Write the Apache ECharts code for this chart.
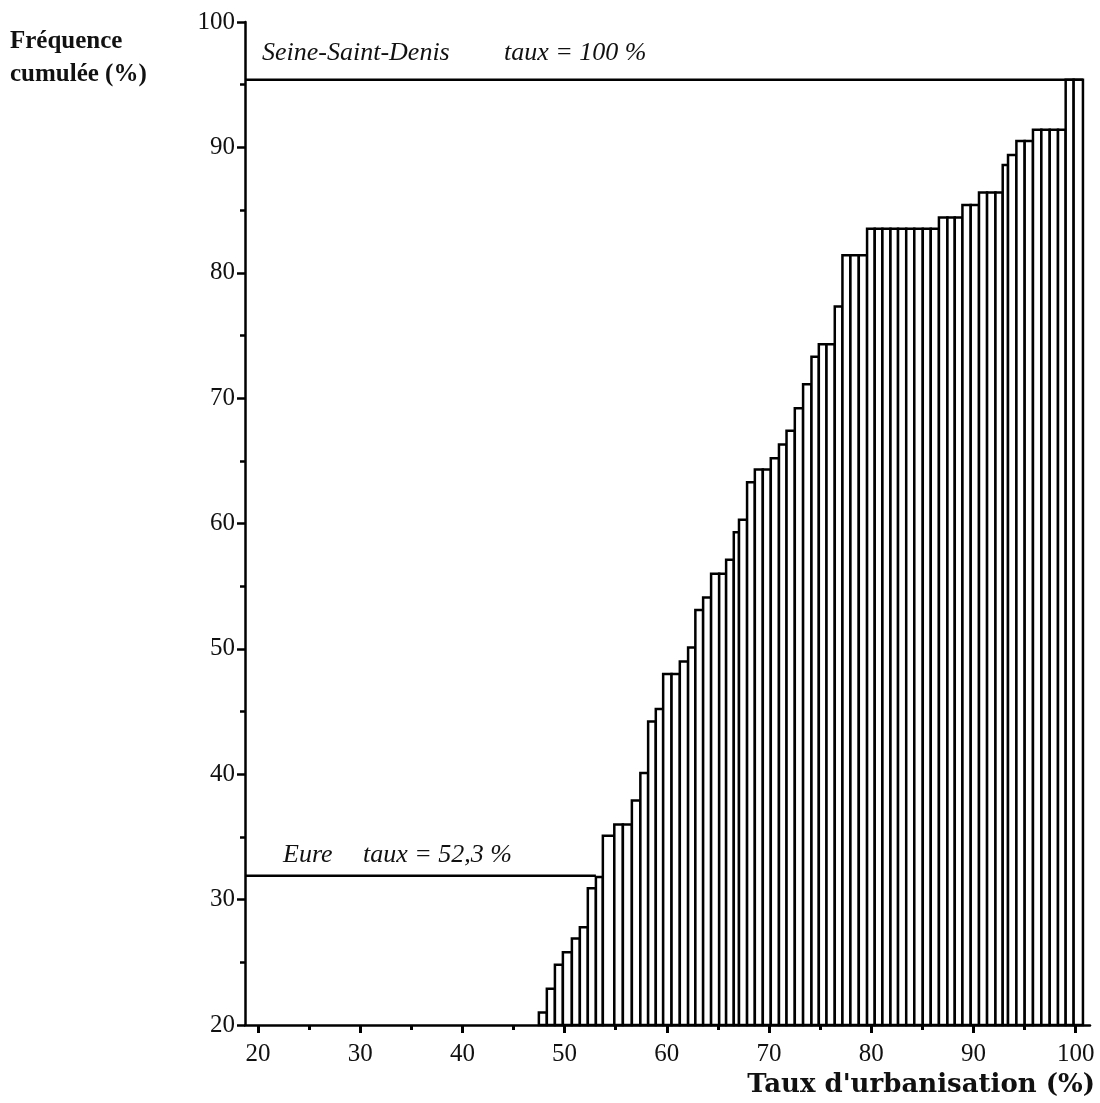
<!DOCTYPE html>
<html>
<head>
<meta charset="utf-8">
<script src="https://cdn.jsdelivr.net/npm/echarts@6/dist/echarts.min.js"></script>
<style>html,body{margin:0;padding:0;background:#fff;}#c{width:1100px;height:1103px;}</style>
</head>
<body>
<div id="c"></div>
<script>
// Left edges of the bars (taux d'urbanisation, %) and the right edge of the last bar
const binEdges = [47.48, 48.26, 49.05, 49.83, 50.71, 51.49, 52.27, 53.06, 53.74, 54.86,
  55.70, 56.58, 57.41, 58.17, 58.92, 59.64, 60.46, 61.27, 62.08, 62.79,
  63.55, 64.33, 65.12, 65.80, 66.55, 67.06, 67.85, 68.61, 69.39, 70.17,
  70.97, 71.71, 72.52, 73.33, 74.15, 74.87, 75.62, 76.43, 77.18, 77.96,
  78.78, 79.59, 80.34, 81.09, 81.88, 82.62, 83.42, 84.21, 85.04, 85.82,
  86.62, 87.45, 88.17, 88.92, 89.73, 90.54, 91.33, 92.15, 92.86, 93.38,
  94.20, 95.01, 95.82, 96.64, 97.46, 98.27, 99.02, 99.80, 100.71];
// Cumulative frequency (%) of each bar
const cumFreq = [21.0, 22.9, 24.8, 25.8, 26.9, 27.8, 30.9, 31.8, 35.1, 36.0,
  36.0, 37.9, 40.1, 44.2, 45.2, 48.0, 48.0, 49.0, 50.1, 53.1,
  54.1, 56.0, 56.0, 57.1, 59.3, 60.3, 63.3, 64.3, 64.3, 65.2,
  66.3, 67.4, 69.2, 71.1, 73.3, 74.3, 74.3, 77.3, 81.4, 81.4,
  81.4, 83.5, 83.5, 83.5, 83.5, 83.5, 83.5, 83.5, 83.5, 83.5,
  84.4, 84.4, 84.4, 85.4, 85.4, 86.4, 86.4, 86.4, 88.6, 89.4,
  90.5, 90.5, 91.4, 91.4, 91.4, 91.4, 95.4, 95.4];
const xTickLabels = [20, 30, 40, 50, 60, 70, 80, 90, 100];
const xMinorTicks = [25, 35, 45, 55, 65, 75, 85, 95];
// Reference lines: [x start, x end, y]
const seineLine = [18.73, 100.71, 95.4];
const eureLine = [18.73, 53.06, 31.9];

const FONT = 'Liberation Serif';
const chart = echarts.init(document.getElementById('c'));
const barData = cumFreq.map((v, i) => [binEdges[i], binEdges[i + 1], v]);

const xAxisBase = {
  type: 'value', min: 18.73, max: 101.4, position: 'bottom',
  splitLine: {show: false}
};

chart.setOption({
  animation: false,
  grid: {left: 245, right: 10, top: 22, bottom: 78},
  xAxis: [
    Object.assign({}, xAxisBase, {
      axisLine: {show: true, onZero: false, lineStyle: {color: '#000', width: 2.5}},
      axisTick: {show: true, customValues: xTickLabels, length: 8, lineStyle: {color: '#000', width: 3}},
      axisLabel: {show: true, customValues: xTickLabels, margin: 17, fontFamily: FONT, fontSize: 25, color: '#111'}
    }),
    Object.assign({}, xAxisBase, {
      axisLine: {show: false},
      axisTick: {show: true, customValues: xMinorTicks, length: 5, lineStyle: {color: '#000', width: 3}},
      axisLabel: {show: false}
    })
  ],
  yAxis: {
    type: 'value', min: 20, max: 100, interval: 10,
    axisLine: {show: true, onZero: false, lineStyle: {color: '#000', width: 2.5}},
    axisTick: {show: true, length: 8, lineStyle: {color: '#000', width: 2.5}},
    minorTick: {show: true, splitNumber: 2, length: 5, lineStyle: {color: '#000', width: 2.5}},
    axisLabel: {margin: 10, fontFamily: FONT, fontSize: 25, color: '#111'},
    splitLine: {show: false}
  },
  series: [
    {
      type: 'custom',
      data: barData,
      renderItem: function (params, api) {
        const p0 = api.coord([api.value(0), api.value(2)]);
        const p1 = api.coord([api.value(1), 20]);
        return {
          type: 'rect',
          shape: {x: p0[0], y: p0[1], width: p1[0] - p0[0], height: p1[1] - p0[1]},
          style: {fill: '#fff', stroke: '#000', lineWidth: 2.5}
        };
      },
      z: 2
    },
    {
      type: 'line', symbol: 'none', z: 3,
      data: [[seineLine[0], seineLine[2]], [seineLine[1], seineLine[2]]],
      lineStyle: {color: '#000', width: 2.5}
    },
    {
      type: 'line', symbol: 'none', z: 3,
      data: [[eureLine[0], eureLine[2]], [eureLine[1], eureLine[2]]],
      lineStyle: {color: '#000', width: 2.5}
    }
  ],
  graphic: [
    {type: 'text', x: 10, y: 42, style: {text: 'Fréquence', font: 'bold 25px "Liberation Serif"', fill: '#111', verticalAlign: 'middle'}},
    {type: 'text', x: 10, y: 75, style: {text: 'cumulée (%)', font: 'bold 25px "Liberation Serif"', fill: '#111', verticalAlign: 'middle'}},
    {type: 'text', x: 262, y: 53, style: {text: 'Seine-Saint-Denis', font: 'italic 26px "Liberation Serif"', fill: '#111', verticalAlign: 'middle'}},
    {type: 'text', x: 504, y: 53, style: {text: 'taux = 100 %', font: 'italic 26px "Liberation Serif"', fill: '#111', verticalAlign: 'middle'}},
    {type: 'text', x: 283, y: 855, style: {text: 'Eure', font: 'italic 26px "Liberation Serif"', fill: '#111', verticalAlign: 'middle'}},
    {type: 'text', x: 363, y: 855, style: {text: 'taux = 52,3 %', font: 'italic 26px "Liberation Serif"', fill: '#111', verticalAlign: 'middle'}},
    {type: 'text', x: 1095, y: 1085, style: {text: "Taux d'urbanisation (%)", font: 'bold 26px "DejaVu Serif"', fill: '#111', verticalAlign: 'middle', align: 'right'}}
  ]
});
</script>
</body>
</html>
